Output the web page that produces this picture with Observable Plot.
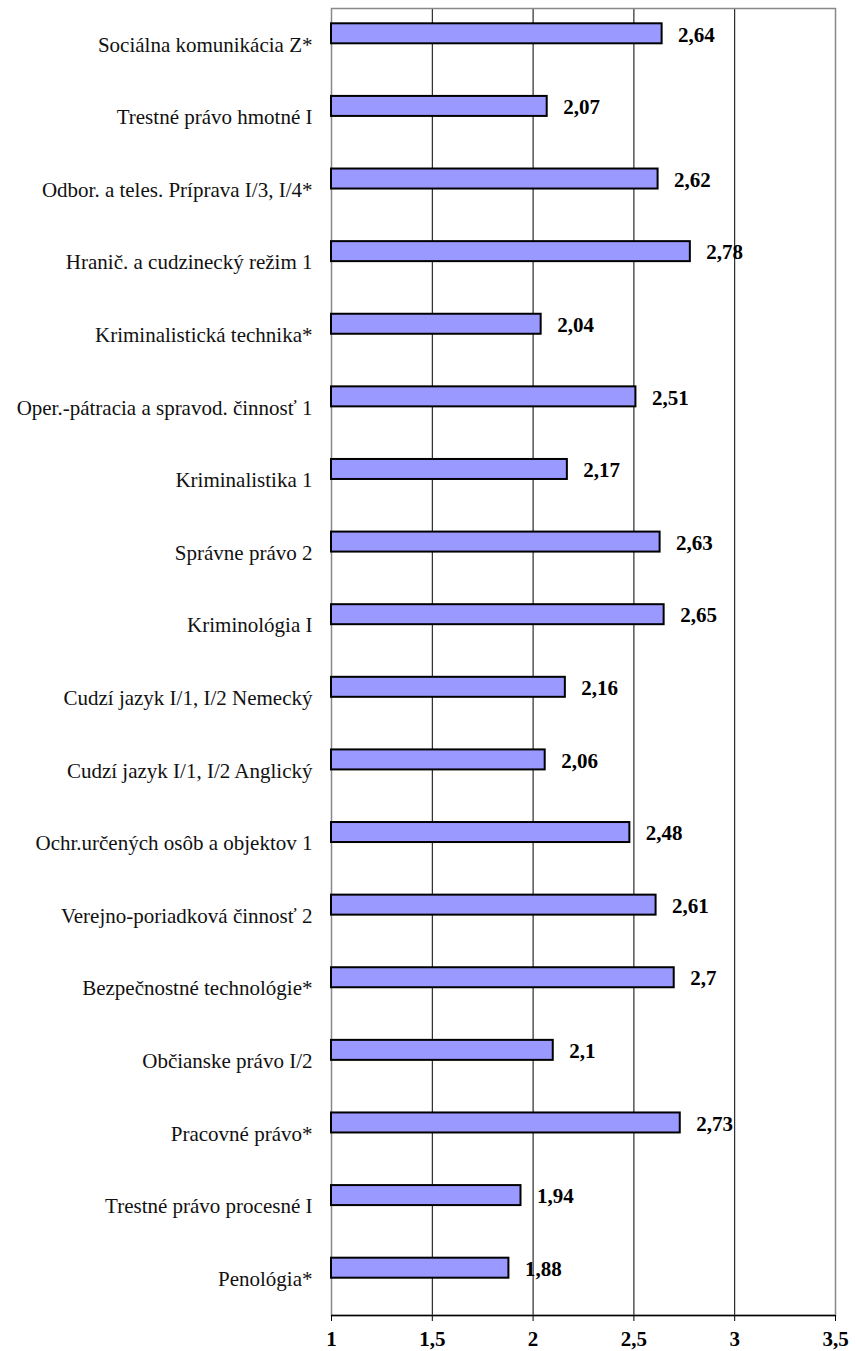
<!DOCTYPE html>
<html>
<head>
<meta charset="utf-8">
<script src="https://cdn.jsdelivr.net/npm/d3@7"></script>
<script src="https://cdn.jsdelivr.net/npm/@observablehq/plot@0.6"></script>
<style>
  html, body { margin: 0; padding: 0; background: #fff; }
  #chart svg { display: block; }
</style>
</head>
<body>
<div id="chart"></div>
<script>
const categories = [
  "Sociálna komunikácia Z*",
  "Trestné právo hmotné I",
  "Odbor. a teles. Príprava I/3, I/4*",
  "Hranič. a cudzinecký režim 1",
  "Kriminalistická technika*",
  "Oper.-pátracia a spravod. činnosť 1",
  "Kriminalistika 1",
  "Správne právo 2",
  "Kriminológia I",
  "Cudzí jazyk I/1, I/2 Nemecký",
  "Cudzí jazyk I/1, I/2 Anglický",
  "Ochr.určených osôb a objektov 1",
  "Verejno-poriadková činnosť 2",
  "Bezpečnostné technológie*",
  "Občianske právo I/2",
  "Pracovné právo*",
  "Trestné právo procesné I",
  "Penológia*"
];
const values = [2.64, 2.07, 2.62, 2.78, 2.04, 2.51, 2.17, 2.63, 2.65, 2.16, 2.06, 2.48, 2.61, 2.7, 2.1, 2.73, 1.94, 1.88];
const xTicks = [1, 1.5, 2, 2.5, 3, 3.5];
const gridValues = [1.5, 2, 2.5, 3];

const data = categories.map((name, i) => ({name, value: values[i]}));
const fmt = v => String(v).replace(".", ",");

const W = 856, H = 1351;
const mTop = 8, mBottom = 36, mLeft = 331, mRight = 21;
const step = (H - mTop - mBottom) / categories.length;
const barH = 20, barOffset = -11;
const half = (step - barH) / 2;

const chart = Plot.plot({
  width: W,
  height: H,
  marginTop: mTop,
  marginBottom: mBottom,
  marginLeft: mLeft,
  marginRight: mRight,
  style: {fontFamily: "'Liberation Serif', 'Times New Roman', serif", background: "#fff", color: "#000"},
  x: {domain: [1, 3.5], ticks: xTicks, tickFormat: fmt, label: null},
  y: {domain: categories, padding: 0, round: false, label: null},
  marks: [
    Plot.gridX(gridValues, {stroke: "#000", strokeOpacity: 1, strokeWidth: 1}),
    Plot.frame({stroke: "#888", strokeWidth: 1.5}),
    Plot.ruleY([categories[categories.length - 1]], {x1: 1, x2: 3.5, stroke: "#000", strokeWidth: 1.3, dy: step / 2}),
    Plot.barX(data, {
      y: "name", x1: d => 1, x2: "value",
      fill: "#9999ff", stroke: "#000", strokeWidth: 2,
      insetTop: half + barOffset, insetBottom: half - barOffset
    }),
    Plot.text(data, {
      y: "name", x: "value", text: d => fmt(d.value),
      dx: 16, dy: barOffset + 1, textAnchor: "start",
      fontWeight: "bold", fontSize: 21, fill: "#000"
    }),
    Plot.axisX({ticks: xTicks, tickFormat: fmt, tickSize: 6, tickPadding: 10, fontSize: 21, fontWeight: "bold", stroke: "#000", fill: "#000", label: null}),
    Plot.axisY({tickSize: 0, tickPadding: 19, fontSize: 21, fill: "#111", label: null})
  ]
});
document.getElementById("chart").appendChild(chart);
</script>
</body>
</html>
